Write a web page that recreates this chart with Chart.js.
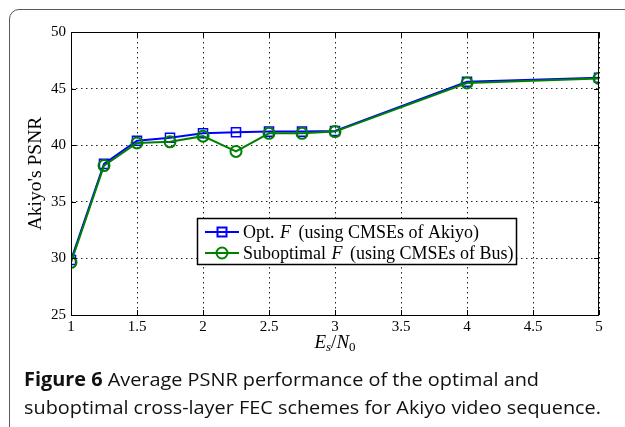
<!DOCTYPE html>
<html>
<head>
<meta charset="utf-8">
<script src="https://cdn.jsdelivr.net/npm/chart.js@4/dist/chart.umd.min.js"></script>
<style>
  html, body { margin: 0; padding: 0; background: #fff; overflow: hidden; }
  body { width: 625px; height: 427px; position: relative; }
  #frame {
    position: absolute; left: 9px; top: 9px; width: 650px; height: 440px;
    border: 1.5px solid #5a5a5a; border-radius: 10px; box-sizing: border-box;
  }
  #chart { position: absolute; left: 0; top: 0; }
  #caption {
    position: absolute; left: 24px; top: 365px; white-space: nowrap;
    font-family: "Open Sans", sans-serif; font-size: 19px; line-height: 28px;
    font-weight: 500; color: #111; transform-origin: left top;
  }
  #caption b { font-weight: 700; }
</style>
</head>
<body>
<div id="frame"></div>
<canvas id="chart" width="625" height="370"></canvas>
<div id="caption">
  <div><b>Figure 6</b> Average PSNR performance of the optimal and</div>
  <div id="cap2">suboptimal cross-layer FEC schemes for Akiyo video sequence.</div>
</div>
<script>
// x: Es/N0, y: average PSNR (dB) of Akiyo
const snr = [1, 1.25, 1.5, 1.75, 2, 2.25, 2.5, 2.75, 3, 4, 5];
const optPSNR = [29.85, 38.35, 40.4, 40.65, 41.05, 41.15, 41.2, 41.2, 41.25, 45.6, 45.95];
const subPSNR = [29.65, 38.2, 40.2, 40.3, 40.8, 39.45, 41.05, 41.05, 41.2, 45.5, 45.9];
const xTicks = [1, 1.5, 2, 2.5, 3, 3.5, 4, 4.5, 5];
const yTicks = [25, 30, 35, 40, 45, 50];
const seriesNames = ["Opt. F (using CMSEs of Akiyo)", "Suboptimal F (using CMSEs of Bus)"];

const serif = "'Liberation Serif', 'DejaVu Serif', serif";

// fit caption to the width of the original column
const cap = document.getElementById("caption");
const w2 = document.getElementById("cap2").getBoundingClientRect().width;
cap.style.transform = "scaleX(" + (577 / w2) + ")";

// box, inward ticks, legend and x title
const decor = {
  id: "decor",
  afterDatasetsDraw(chart) {
    const { ctx, chartArea: a, scales } = chart;
    ctx.save();
    ctx.strokeStyle = "#000";
    ctx.lineWidth = 1;
    ctx.strokeRect(a.left + 0.5, a.top + 0.5, a.right - a.left - 1, a.bottom - a.top);
    ctx.beginPath();
    xTicks.forEach(v => {
      const x = Math.round(scales.x.getPixelForValue(v)) + 0.5;
      ctx.moveTo(x, a.bottom); ctx.lineTo(x, a.bottom - 5);
      ctx.moveTo(x, a.top); ctx.lineTo(x, a.top + 5);
    });
    yTicks.forEach(v => {
      const y = Math.round(scales.y.getPixelForValue(v)) + 0.5;
      ctx.moveTo(a.left, y); ctx.lineTo(a.left + 5, y);
      ctx.moveTo(a.right, y); ctx.lineTo(a.right - 5, y);
    });
    ctx.stroke();

    // legend
    const lx = 197, ly = 218, lw = 319, lh = 46;
    ctx.fillStyle = "#fff";
    ctx.fillRect(lx, ly, lw, lh);
    ctx.strokeStyle = "#000";
    ctx.lineWidth = 1.5;
    ctx.strokeRect(lx + 0.5, ly + 0.5, lw, lh);
    const rows = [232, 253];
    chart.data.datasets.forEach((ds, i) => {
      const y = rows[i];
      ctx.strokeStyle = ds.borderColor;
      ctx.lineWidth = 2;
      ctx.beginPath(); ctx.moveTo(205, y); ctx.lineTo(239, y); ctx.stroke();
      if (ds.pointStyle === "rect") {
        ctx.strokeRect(217.5, y - 4.5, 9, 9);
      } else {
        ctx.beginPath(); ctx.arc(222, y, 5.5, 0, Math.PI * 2); ctx.stroke();
      }
      const parts = ds.label.split(" F ");
      ctx.fillStyle = "#000";
      ctx.textBaseline = "middle";
      ctx.font = "18px " + serif;
      let x = 243;
      ctx.fillText(parts[0] + " ", x, y + 1);
      x += ctx.measureText(parts[0] + " ").width + 1;
      ctx.font = "italic 18px " + serif;
      ctx.fillText("F", x, y + 1);
      x += ctx.measureText("F ").width + 3;
      ctx.font = "18px " + serif;
      ctx.fillText(parts[1], x, y + 1);
    });

    // x axis title: Es/N0
    const cx = (a.left + a.right) / 2, base = 348;
    ctx.fillStyle = "#000";
    ctx.textBaseline = "alphabetic";
    const pieces = [
      ["italic 19px " + serif, "E", 0], ["italic 13px " + serif, "s", 3],
      ["19px " + serif, "/", 0], ["italic 19px " + serif, "N", 0], ["13px " + serif, "0", 3]
    ];
    let total = 0;
    pieces.forEach(p => { ctx.font = p[0]; total += ctx.measureText(p[1]).width; });
    let px = cx - total / 2;
    pieces.forEach(p => {
      ctx.font = p[0];
      ctx.fillText(p[1], px, base + p[2]);
      px += ctx.measureText(p[1]).width;
    });
    ctx.restore();
  }
};

new Chart(document.getElementById("chart").getContext("2d"), {
  type: "line",
  data: {
    datasets: [
      {
        label: seriesNames[0],
        data: snr.map((x, i) => ({ x: x, y: optPSNR[i] })),
        borderColor: "#0000ff",
        borderWidth: 2,
        pointStyle: "rect",
        pointRadius: 6.4,
        pointBorderWidth: 1.5,
        pointBackgroundColor: "rgba(0,0,0,0)",
        pointBorderColor: "#0000ff",
        tension: 0,
        order: 2
      },
      {
        label: seriesNames[1],
        data: snr.map((x, i) => ({ x: x, y: subPSNR[i] })),
        borderColor: "#008000",
        borderWidth: 2,
        pointStyle: "circle",
        pointRadius: 5.5,
        pointBorderWidth: 2,
        pointBackgroundColor: "rgba(0,0,0,0)",
        pointBorderColor: "#008000",
        tension: 0,
        order: 1
      }
    ]
  },
  options: {
    responsive: false,
    animation: false,
    layout: { padding: { left: 0, top: 32, right: 26, bottom: 0 } },
    plugins: { legend: { display: false }, tooltip: { enabled: false } },
    scales: {
      x: {
        type: "linear",
        min: 1, max: 5,
        afterFit(s) { s.height = 55; },
        afterBuildTicks(s) { s.ticks = xTicks.map(v => ({ value: v })); },
        grid: { color: "#222", lineWidth: 1, drawTicks: false },
        border: { display: false, dash: [1.5, 3.5] },
        ticks: { color: "#000", font: { family: serif, size: 15 }, padding: 3, maxRotation: 0,
                 callback: v => String(v) }
      },
      y: {
        min: 25, max: 50,
        afterFit(s) { s.width = 71; },
        afterBuildTicks(s) { s.ticks = yTicks.map(v => ({ value: v })); },
        grid: { color: "#222", lineWidth: 1, drawTicks: false },
        border: { display: false, dash: [1.5, 3.5] },
        ticks: { color: "#000", font: { family: serif, size: 15 }, padding: 5 },
        title: { display: true, text: "Akiyo's PSNR", color: "#000", font: { family: serif, size: 19.5 }, padding: { top: 24, bottom: 0 } }
      }
    }
  },
  plugins: [decor]
});
</script>
</body>
</html>
